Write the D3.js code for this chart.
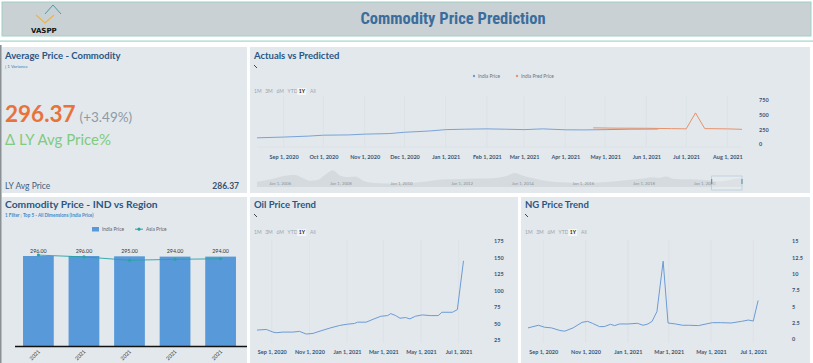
<!DOCTYPE html>
<html>
<head>
<meta charset="utf-8">
<script src="https://cdn.jsdelivr.net/npm/d3@7"></script>
<style>
  body { margin: 0; background: #ffffff; }
  svg { display: block; font-family: Lato, "Open Sans", sans-serif; }
</style>
</head>
<body>
<svg id="dash" width="813" height="363"></svg>
<script>
"use strict";

// ---- data ----
const pageTitle = "Commodity Price Prediction";
const kpiValue = 296.37;
const kpiChange = 3.49;
const lyAvgPrice = 286.37;
const rangeButtons = ["1M", "3M", "6M", "YTD", "1Y", "All"];

// Actuals vs Predicted (1Y window)
const actualDates = ["2020-08-12", "2020-09-01", "2020-09-20", "2020-10-01", "2020-10-20", "2020-11-01",
  "2020-11-20", "2020-12-01", "2020-12-20", "2021-01-01", "2021-01-15", "2021-02-01", "2021-02-15",
  "2021-03-01", "2021-03-15", "2021-04-01", "2021-04-15", "2021-05-01", "2021-05-20", "2021-06-10"];
const actualValues = [105, 118, 135, 150, 155, 168, 178, 200, 222, 245, 252, 258, 252,
  245, 258, 242, 240, 245, 252, 255];
const predDates = ["2021-04-22", "2021-05-10", "2021-06-01", "2021-06-20", "2021-07-01", "2021-07-08",
  "2021-07-15", "2021-08-01", "2021-08-12"];
const predValues = [275, 270, 268, 262, 258, 530, 262, 258, 250];

// navigator (full history, half-yearly)
const navDates = ["2005-04-01", "2005-10-01", "2006-04-01", "2006-07-01", "2006-10-01", "2007-01-01",
  "2007-04-01", "2007-07-01", "2007-10-01", "2008-01-01", "2008-04-01", "2008-07-01", "2008-10-01",
  "2009-01-01", "2009-07-01", "2010-01-01", "2010-07-01", "2011-01-01", "2011-07-01", "2012-01-01",
  "2012-07-01", "2013-01-01", "2013-07-01", "2013-10-01", "2014-01-01", "2014-07-01", "2015-01-01",
  "2015-07-01", "2016-01-01", "2016-07-01", "2017-01-01", "2017-07-01", "2018-01-01", "2018-04-01",
  "2018-07-01", "2018-10-01", "2019-01-01", "2019-07-01", "2020-01-01", "2020-07-01", "2021-01-01",
  "2021-04-01"];
const navValues = [150, 230, 330, 340, 260, 180, 200, 350, 480, 320, 280, 300, 180,
  120, 100, 110, 130, 180, 220, 230, 240, 250, 320, 400, 330, 220, 150,
  130, 110, 130, 160, 200, 240, 280, 260, 300, 230, 220, 200, 160, 230, 250];

// Commodity Price - IND vs Region
const regionLabels = ["2021", "2021", "2021", "2021", "2021"];
const indiaPrice = [296, 296, 295, 294, 294];
const asiaPrice = [299, 293, 282, 285, 287];

// Oil Price Trend
const oilDates = ["2020-08-08", "2020-08-23", "2020-09-03", "2020-09-08", "2020-09-19", "2020-10-05",
  "2020-10-16", "2020-10-27", "2020-11-07", "2020-11-20", "2020-12-04", "2020-12-20", "2021-01-02",
  "2021-01-13", "2021-01-18", "2021-02-01", "2021-02-14", "2021-02-25", "2021-03-08", "2021-03-13",
  "2021-03-21", "2021-03-28", "2021-04-06", "2021-04-13", "2021-04-22", "2021-05-03", "2021-05-16",
  "2021-05-29", "2021-06-04", "2021-06-21", "2021-06-29", "2021-07-09"];
const oilValues = [40, 41, 37, 36, 37, 37, 38, 34, 35, 39, 43, 47, 49,
  50, 52, 52, 57, 61, 62, 65, 62, 58, 59, 57, 61, 63, 62,
  62, 67, 67, 71, 145];

// NG Price Trend
const ngDates = ["2020-08-10", "2020-08-25", "2020-09-03", "2020-09-13", "2020-09-25", "2020-10-02",
  "2020-10-14", "2020-10-27", "2020-11-04", "2020-11-11", "2020-11-21", "2020-11-28", "2020-12-07",
  "2020-12-13", "2020-12-20", "2021-01-01", "2021-01-15", "2021-01-23", "2021-01-30", "2021-02-05",
  "2021-02-12", "2021-02-21", "2021-02-28", "2021-03-11", "2021-03-21", "2021-03-31", "2021-04-13",
  "2021-04-24", "2021-05-03", "2021-05-15", "2021-05-30", "2021-06-14", "2021-06-24", "2021-07-01",
  "2021-07-08"];
const ngValues = [1.7, 2.1, 1.8, 1.7, 1.3, 1.2, 1.7, 2.55, 2.7, 2.4, 1.9, 1.9, 2.25,
  2.05, 2.3, 2.3, 2.4, 2.1, 2.3, 2.7, 4.2, 11.9, 2.45, 2.3, 2.1, 2.1, 2.05,
  2.3, 2.5, 2.5, 2.45, 2.7, 2.9, 2.75, 5.9];

// ---- drawing ----
const parse = d3.timeParse("%Y-%m-%d");
const fmtDay = d3.timeFormat("%b %-d, %Y");
const svg = d3.select("#dash");

const C = {
  panel: "#e3e8ec",
  title: "#2b5683",
  tick: "#3d5573",
  grid: "#d6dde3",
  blue: "#6b9bd6",
  orange: "#e8926a",
  bar: "#5899da",
  teal: "#2aa3a3"
};

function panel(x, y, w, h) {
  svg.append("rect").attr("x", x).attr("y", y).attr("width", w).attr("height", h).attr("fill", C.panel);
}

function title(x, y, text, size) {
  svg.append("text").attr("x", x).attr("y", y).text(text)
    .attr("font-size", size || 9.5).attr("font-weight", 700).attr("fill", C.title);
}

// tiny pencil-ish glyph under chart titles
function pencil(x, y) {
  svg.append("path").attr("d", `M${x},${y} L${x + 3},${y + 3}`)
    .attr("stroke", "#444").attr("stroke-width", 1);
}

function rangeSelector(x, y) {
  const g = svg.append("g").attr("transform", `translate(${x},${y})`);
  rangeButtons.forEach(function(lbl, i) {
    const bx = i * 11.2;
    if (lbl === "1Y") {
      g.append("rect").attr("x", bx - 1.5).attr("y", -5).attr("width", 9).attr("height", 7)
        .attr("fill", "#f4f6f8");
    }
    g.append("text").attr("x", bx).attr("y", 0).text(lbl)
      .attr("font-size", 5).attr("fill", lbl === "1Y" ? "#222" : "#9aa4ad")
      .attr("font-weight", lbl === "1Y" ? 700 : 400);
  });
}

function styleAxis(g, size, color, weight) {
  g.select(".domain").remove();
  g.selectAll("text").attr("font-size", size).attr("fill", color).attr("font-weight", weight)
    .attr("font-family", "Lato, 'Open Sans', sans-serif");
}

// page frame
svg.append("rect").attr("x", 2).attr("y", 2).attr("width", 809).attr("height", 34)
  .attr("fill", "#c9d1d5").attr("stroke", "#9fd0c6").attr("stroke-width", 1);
svg.append("rect").attr("x", 0).attr("y", 40.5).attr("width", 813).attr("height", 1.2).attr("fill", "#a6d5cc");
svg.append("text").attr("x", 453).attr("y", 24).attr("text-anchor", "middle").text(pageTitle)
  .attr("font-size", 16.5).attr("font-weight", 700).attr("fill", "#3b6d9c")
  .attr("font-family", "'Liberation Sans Narrow', 'Roboto Condensed', 'Open Sans', sans-serif");

// logo
svg.append("path").attr("d", "M45,14 L53,5 L61,14").attr("fill", "none")
  .attr("stroke", "#4b9aa8").attr("stroke-width", 1);
svg.append("path").attr("d", "M36,15 L45,23 L54,15").attr("fill", "none")
  .attr("stroke", "#e8b84a").attr("stroke-width", 1.3);
svg.append("text").attr("x", 31).attr("y", 33).text("VASPP")
  .attr("font-size", 7).attr("font-weight", 700).attr("fill", "#111")
  .attr("font-family", "'DejaVu Sans', sans-serif");

panel(2, 47, 245, 146);
panel(250, 47, 560, 146);
panel(2, 197, 245, 166);
panel(250, 197, 268, 166);
panel(521, 197, 289, 166);
svg.append("rect").attr("x", 0).attr("y", 45).attr("width", 1.6).attr("height", 318).attr("fill", "#8b9095");

// ---- KPI panel ----
title(5, 59, "Average Price - Commodity");
svg.append("text").attr("x", 5).attr("y", 68).text("| 1 Variance")
  .attr("font-size", 4.5).attr("fill", "#2f7fbf");
const kpi = svg.append("text").attr("x", 5).attr("y", 122);
kpi.append("tspan").text(d3.format(".2f")(kpiValue))
  .attr("font-size", 22.5).attr("font-weight", 700).attr("fill", "#e8733a");
kpi.append("tspan").attr("dx", 4).text("(" + d3.format("+.2f")(kpiChange) + "%)")
  .attr("font-size", 13.5).attr("fill", "#8d9aa6");
svg.append("text").attr("x", 5).attr("y", 145).text("\u0394 LY Avg Price%")
  .attr("font-size", 15).attr("fill", "#7fcb7f");
svg.append("text").attr("x", 5).attr("y", 189).text("LY Avg Price")
  .attr("font-size", 8.5).attr("fill", "#40607e");
svg.append("text").attr("x", 239).attr("y", 189).attr("text-anchor", "end")
  .text(d3.format(".2f")(lyAvgPrice))
  .attr("font-size", 8.5).attr("font-weight", 700).attr("fill", "#37526e");

// ---- Actuals vs Predicted ----
title(254, 59, "Actuals vs Predicted");
pencil(254, 65);
const legA = svg.append("g").attr("font-size", 4.8).attr("fill", "#6a7580");
legA.append("circle").attr("cx", 474).attr("cy", 76).attr("r", 1.2).attr("fill", C.blue);
legA.append("text").attr("x", 478).attr("y", 77.6).text("India Price");
legA.append("circle").attr("cx", 517).attr("cy", 76).attr("r", 1.2).attr("fill", C.orange);
legA.append("text").attr("x", 521).attr("y", 77.6).text("India Pred Price");
rangeSelector(254, 93);

const xA = d3.scaleTime().domain([parse("2020-08-12"), parse("2021-08-12")]).range([257, 742]);
const yA = d3.scaleLinear().domain([0, 750]).range([144, 100]);

svg.append("g").selectAll("line").data(xA.ticks(d3.timeMonth.every(1))).join("line")
  .attr("x1", d => xA(d)).attr("x2", d => xA(d)).attr("y1", 96).attr("y2", 147)
  .attr("stroke", C.grid).attr("stroke-width", 0.5);
svg.append("line").attr("x1", 257).attr("x2", 742).attr("y1", 147).attr("y2", 147)
  .attr("stroke", C.grid).attr("stroke-width", 0.5);

const gxA = svg.append("g").attr("transform", "translate(0,152)")
  .call(d3.axisBottom(xA).ticks(d3.timeMonth.every(1)).tickFormat(fmtDay).tickSize(0));
styleAxis(gxA, 5.5, C.tick, 700);
const gyA = svg.append("g").attr("transform", "translate(759,0)")
  .call(d3.axisRight(yA).tickValues([0, 250, 500, 750]).tickFormat(d3.format("")).tickSize(0).tickPadding(0));
styleAxis(gyA, 5.5, C.tick, 700);

const lineA = d3.line().x(d => xA(d[0])).y(d => yA(d[1]));
svg.append("path").datum(actualDates.map((d, i) => [parse(d), actualValues[i]]))
  .attr("d", lineA).attr("fill", "none").attr("stroke", C.blue).attr("stroke-width", 0.9);
svg.append("path").datum(predDates.map((d, i) => [parse(d), predValues[i]]))
  .attr("d", lineA).attr("fill", "none").attr("stroke", C.orange).attr("stroke-width", 1);

// navigator
const xN = d3.scaleTime().domain([parse("2005-04-01"), parse("2021-04-01")]).range([257, 742]);
const yN = d3.scaleLinear().domain([0, 600]).range([187, 166]);
svg.append("path").datum(navDates.map((d, i) => [parse(d), navValues[i]]))
  .attr("d", d3.area().curve(d3.curveMonotoneX).x(d => xN(d[0])).y0(187).y1(d => yN(d[1])))
  .attr("fill", "#cfd5da").attr("opacity", 0.75);
const gxN = svg.append("g").attr("transform", "translate(0,182)")
  .call(d3.axisBottom(xN).ticks(d3.timeYear.every(2)).tickFormat(fmtDay).tickSize(0).tickPadding(0));
styleAxis(gxN, 4.3, "#8a949c", 400);
const selX0 = xN(parse("2020-04-01")), selX1 = xN(parse("2021-04-01"));
svg.append("rect").attr("x", selX0).attr("y", 176).attr("width", selX1 - selX0).attr("height", 14)
  .attr("fill", "#e9eef2").attr("fill-opacity", 0.35).attr("stroke", "#a9c2d6").attr("stroke-width", 0.6);
[selX0, selX1].forEach(function(hx) {
  svg.append("line").attr("x1", hx).attr("x2", hx).attr("y1", 179).attr("y2", 184)
    .attr("stroke", "#5c84a8").attr("stroke-width", 1);
});

// ---- Commodity Price - IND vs Region ----
title(5, 208, "Commodity Price - IND vs Region", 10.3);
const sub = svg.append("text").attr("x", 5).attr("y", 216.5).attr("font-size", 4.6)
  .attr("font-weight", 700).attr("fill", "#3b8ccb");
sub.append("tspan").text("1 Filter ");
sub.append("tspan").attr("fill", "#8a9aa8").attr("font-weight", 400).text("| ");
sub.append("tspan").text("Top 5 - All Dimensions (India Price)");

const legB = svg.append("g").attr("font-size", 4.8).attr("fill", "#5a6570");
legB.append("rect").attr("x", 92).attr("y", 227).attr("width", 7).attr("height", 4.5).attr("fill", C.bar);
legB.append("text").attr("x", 102).attr("y", 231).text("India Price");
legB.append("line").attr("x1", 135).attr("x2", 143).attr("y1", 229.2).attr("y2", 229.2)
  .attr("stroke", C.teal).attr("stroke-width", 1);
legB.append("circle").attr("cx", 139).attr("cy", 229.2).attr("r", 1.6).attr("fill", C.teal);
legB.append("text").attr("x", 146).attr("y", 231).text("Asia Price");

const xB = d3.scaleBand().domain(d3.range(indiaPrice.length)).range([15.6, 243.4])
  .paddingInner(0.325).paddingOuter(0.163);
const yB = d3.scaleLinear().domain([0, 296]).range([346, 256]);

svg.append("g").selectAll("rect").data(indiaPrice).join("rect")
  .attr("x", (d, i) => xB(i)).attr("width", xB.bandwidth())
  .attr("y", d => yB(d)).attr("height", d => yB(0) - yB(d)).attr("fill", C.bar);
svg.append("g").selectAll("text").data(indiaPrice).join("text")
  .attr("x", (d, i) => xB(i) + xB.bandwidth() / 2).attr("y", d => yB(d) - 3.5)
  .attr("text-anchor", "middle").attr("font-size", 5.3).attr("fill", "#333")
  .text(d => d3.format(".2f")(d));
svg.append("path").datum(asiaPrice)
  .attr("d", d3.line().x((d, i) => xB(i) + xB.bandwidth() / 2).y(d => yB(d)))
  .attr("fill", "none").attr("stroke", C.teal).attr("stroke-width", 0.9);
svg.append("g").selectAll("circle").data(asiaPrice).join("circle")
  .attr("cx", (d, i) => xB(i) + xB.bandwidth() / 2).attr("cy", d => yB(d)).attr("r", 1.6)
  .attr("fill", C.teal);
svg.append("line").attr("x1", 15).attr("x2", 247).attr("y1", 346.5).attr("y2", 346.5)
  .attr("stroke", "#111").attr("stroke-width", 1.6);
svg.append("g").selectAll("text").data(regionLabels).join("text")
  .attr("transform", (d, i) => `translate(${xB(i) + xB.bandwidth() / 2 + 2},${352}) rotate(-45)`)
  .attr("text-anchor", "end").attr("font-size", 5.3).attr("fill", "#333").text(d => d);

// ---- small trend charts ----
function trendChart(opt) {
  title(opt.x0 + 4, 208, opt.title);
  pencil(opt.x0 + 4, 214);
  rangeSelector(opt.x0 + 4, 234);
  const x = d3.scaleTime().domain(opt.domain).range(opt.xr);
  const y = d3.scaleLinear().domain(opt.yd).range(opt.yr);
  svg.append("g").selectAll("line").data(x.ticks(d3.timeMonth.every(2))).join("line")
    .attr("x1", d => x(d)).attr("x2", d => x(d)).attr("y1", 240).attr("y2", 343)
    .attr("stroke", C.grid).attr("stroke-width", 0.5);
  const gx = svg.append("g").attr("transform", "translate(0,347)")
    .call(d3.axisBottom(x).ticks(d3.timeMonth.every(2)).tickFormat(fmtDay).tickSize(0));
  styleAxis(gx, 5.5, C.tick, 700);
  const gy = svg.append("g").attr("transform", `translate(${opt.yAxisX},0)`)
    .call(d3.axisRight(y).tickValues(opt.yTicks).tickFormat(d3.format("")).tickSize(0).tickPadding(0));
  styleAxis(gy, 5.5, C.tick, 700);
  svg.append("path").datum(opt.dates.map((d, i) => [parse(d), opt.values[i]]))
    .attr("d", d3.line().x(d => x(d[0])).y(d => y(d[1])))
    .attr("fill", "none").attr("stroke", C.blue).attr("stroke-width", 1);
}

trendChart({
  x0: 250, title: "Oil Price Trend",
  domain: [parse("2020-08-08"), parse("2021-08-08")], xr: [257, 482],
  yd: [25, 175], yr: [340, 241], yAxisX: 494,
  yTicks: [25, 50, 75, 100, 125, 150, 175],
  dates: oilDates, values: oilValues
});

trendChart({
  x0: 521, title: "NG Price Trend",
  domain: [parse("2020-08-10"), parse("2021-08-10")], xr: [528, 781],
  yd: [0, 15], yr: [339, 241], yAxisX: 792,
  yTicks: [0, 2.5, 5, 7.5, 10, 12.5, 15],
  dates: ngDates, values: ngValues
});
</script>
</body>
</html>
